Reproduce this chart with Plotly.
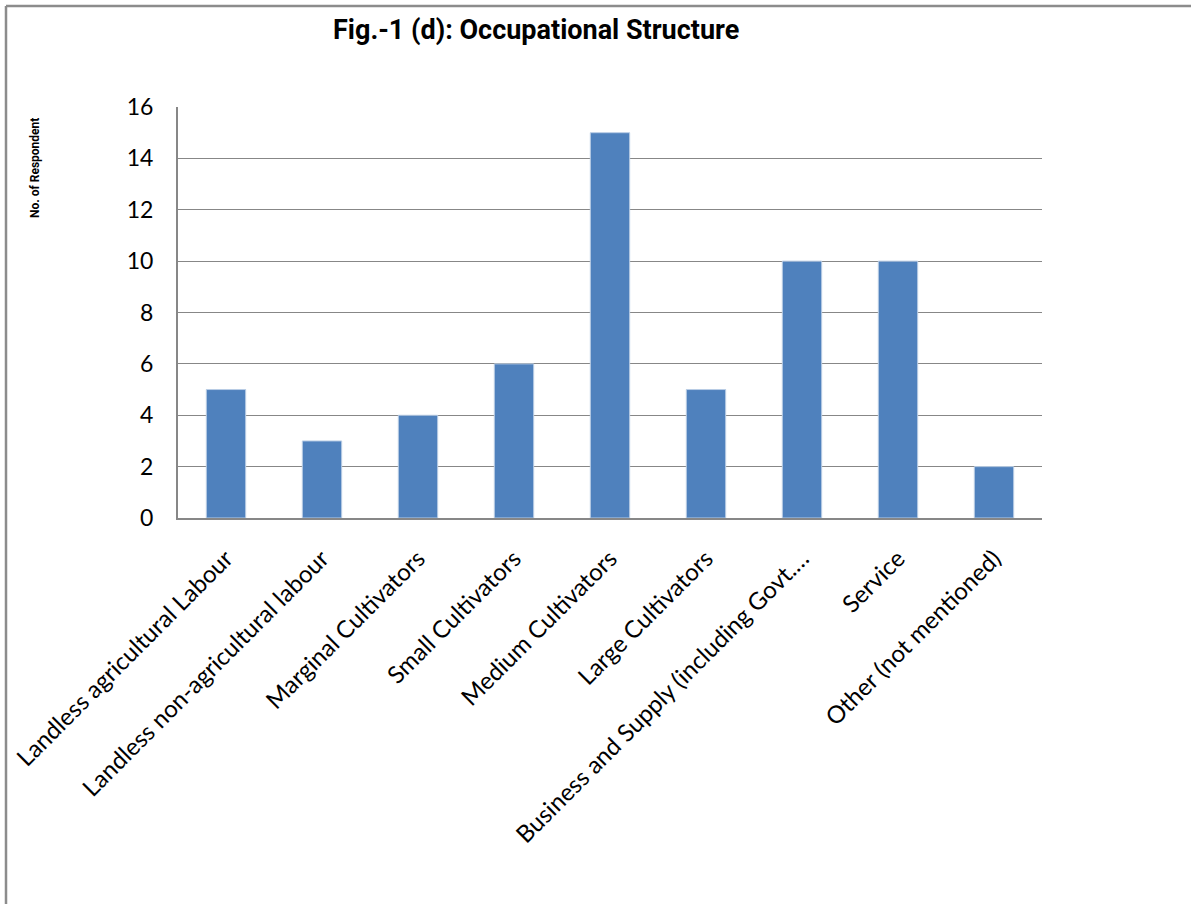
import plotly.graph_objects as go

categories = [
    "Landless agricultural Labour",
    "Landless non-agricultural labour",
    "Marginal Cultivators",
    "Small Cultivators",
    "Medium Cultivators",
    "Large Cultivators",
    "Business and Supply (including Govt.…",
    "Service",
    "Other (not mentioned)",
]
values = [5, 3, 4, 6, 15, 5, 10, 10, 2]
y_ticks = [0, 2, 4, 6, 8, 10, 12, 14, 16]

W, H = 1191, 904
L, R, T, B = 178, 1042, 107, 518
pw, ph = R - L, B - T

def px(x):
    return (x - L) / pw

def py(y):
    return (B - y) / ph

fig = go.Figure(go.Bar(
    x=categories, y=values,
    marker=dict(color="#4F81BD", line=dict(color="#B9CDE5", width=1)),
))

fig.update_layout(
    width=W, height=H,
    margin=dict(l=L, r=W - R, t=T, b=H - B, autoexpand=False),
    paper_bgcolor="white", plot_bgcolor="white",
    bargap=0.59,
    showlegend=False,
    font=dict(family="Lato, Open Sans, sans-serif", color="black"),
)
fig.update_yaxes(
    range=[0, 16], tickvals=y_ticks, showgrid=True, gridcolor="#878787", gridwidth=1.3,
    showline=True, linecolor="#878787", linewidth=2, ticks="",
    tickfont=dict(size=23, family="Lato, Open Sans, sans-serif"), ticklabelstandoff=18,
    zeroline=False,
)
fig.update_xaxes(
    showline=True, linecolor="#878787", linewidth=2, ticks="",
    tickangle=-45, tickfont=dict(size=24, family="Lato, Open Sans, sans-serif"),
    ticklabelstandoff=15,
)

fig.add_annotation(
    text="<b>Fig.-1 (d): Occupational Structure</b>", xref="paper", yref="paper",
    x=px(536), y=py(30), showarrow=False, xanchor="center", yanchor="middle",
    font=dict(size=27, family="Roboto, Liberation Sans Narrow, sans-serif", color="black"),
)
fig.add_annotation(
    text="<b>No. of Respondent</b>", xref="paper", yref="paper",
    x=px(35), y=py(168), showarrow=False, textangle=-90, xanchor="center", yanchor="middle",
    font=dict(size=12, family="Roboto, Liberation Sans Narrow, sans-serif", color="black"),
)

# outer frame (top and left edges visible)
fig.add_shape(type="line", xref="paper", yref="paper",
              x0=px(6), y0=py(6), x1=px(W + 5), y1=py(6),
              line=dict(color="#8C8C8C", width=2.5))
fig.add_shape(type="line", xref="paper", yref="paper",
              x0=px(6), y0=py(6), x1=px(6), y1=py(H + 5),
              line=dict(color="#8C8C8C", width=2.5))

fig.write_html("out.html")
